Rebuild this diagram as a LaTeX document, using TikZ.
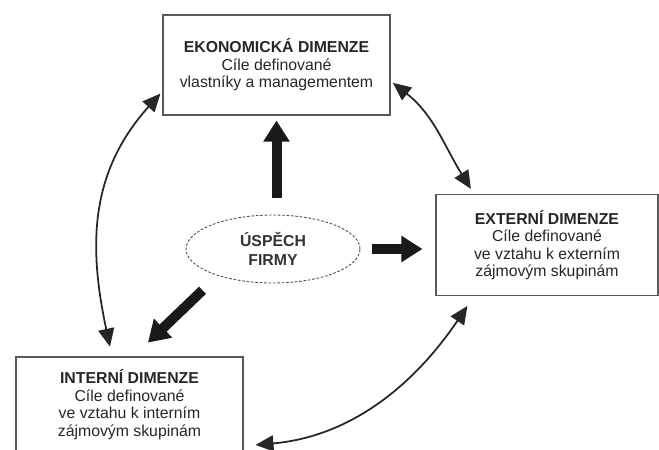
\documentclass[tikz,border=0pt]{standalone}
\usepackage{fontspec}
\setmainfont{Liberation Sans}
\usepackage{tikz}
\usetikzlibrary{arrows.meta}
\usetikzlibrary{shapes.geometric}

\tikzset{
	dimbox/.style={draw=black!65, line width=0.6pt, text=black!85, align=center,
		font=\fontsize{9}{10}\selectfont, inner sep=2pt},
	uspech/.style={ellipse, draw=black!70, line width=0.5pt, dash pattern=on 1.5pt off 1pt,
		text=black!80, align=center, font=\bfseries\fontsize{9}{10.5}\selectfont,
		minimum width=3.48cm, minimum height=1.36cm, inner sep=0pt},
	bigarrow/.style={draw=black!90, line width=0.2cm, -{Triangle[width=0.5cm,length=0.42cm]}},
	linkarrow/.style={draw=black!85, line width=1pt,
		{Triangle[width=0.32cm,length=0.36cm]}-{Triangle[width=0.32cm,length=0.36cm]}}
}

\begin{document}
\begin{tikzpicture}
	\useasboundingbox (0,0) rectangle (13.18,9);
	
	% the three dimensions
	\node[dimbox, minimum width=4.54cm, minimum height=2cm] (ekon) at (5.53,7.70)
		{\textbf{EKONOMICKÁ DIMENZE}\\Cíle definované\\vlastníky a managementem};
	\node[dimbox, minimum width=4.44cm, minimum height=2.02cm] (ext) at (10.94,4.10)
		{\textbf{EXTERNÍ DIMENZE}\\Cíle definované\\ve vztahu k externím\\zájmovým skupinám};
	\node[dimbox, minimum width=4.54cm, minimum height=1.90cm] (int) at (2.59,0.91)
		{\textbf{INTERNÍ DIMENZE}\\Cíle definované\\ve vztahu k interním\\zájmovým skupinám};
	
	% centre
	\node[uspech] (usp) at (5.46,4.02) {ÚSPĚCH\\FIRMY};
	
	% thick arrows out of the centre
	\draw[bigarrow, shorten <=0.34cm, shorten >=0.1cm] (usp.north -| ekon.south) -- (ekon.south);
	\draw[bigarrow, shorten <=0.24cm, shorten >=0.26cm] (usp.east) -- (usp.east -| ext.west);
	\draw[bigarrow, shorten <=0.49cm, shorten >=0.4cm] ([xshift=0.18cm]usp.south west) -- ([xshift=0.08cm]int.north);
	
	% links between the dimensions
	\draw[linkarrow, shorten <=0.06cm, shorten >=0.2cm] (ekon.193) to[out=228,in=102,looseness=1.05] (int.110);
	\draw[linkarrow, shorten <=0.06cm, shorten >=0.12cm] (ekon.352) to[out=-38,in=122] (ext.145);
	\draw[linkarrow, shorten <=0.24cm, shorten >=0.24cm] (ext.215) to[out=236,in=5] (int.340);
\end{tikzpicture}
\end{document}
